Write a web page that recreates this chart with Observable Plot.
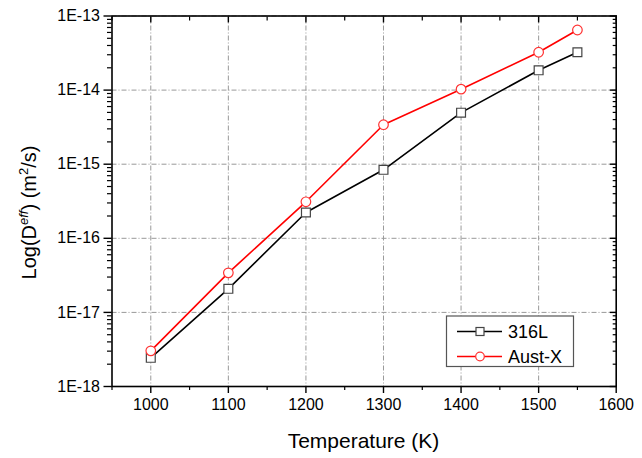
<!DOCTYPE html>
<html>
<head>
<meta charset="utf-8">
<script src="https://cdn.jsdelivr.net/npm/d3@7"></script>
<script src="https://cdn.jsdelivr.net/npm/@observablehq/plot@0.6"></script>
<style>
  html, body { margin: 0; padding: 0; background: #fff; }
  #chart svg { display: block; }
</style>
</head>
<body>
<div id="chart"></div>
<script>
// ---- data ----
const temperatures = [1000, 1100, 1200, 1300, 1400, 1500, 1550];
const d316L  = [2.44e-18, 2.08e-17, 2.23e-16, 8.4e-16, 4.96e-15, 1.85e-14, 3.24e-14];
const dAustX = [3.03e-18, 3.42e-17, 3.11e-16, 3.41e-15, 1.03e-14, 3.24e-14, 6.47e-14];
const seriesNames = ["316L", "Aust-X"];
const xTicks = [1000, 1100, 1200, 1300, 1400, 1500, 1600];
const xMinorTicks = [950, 1050, 1150, 1250, 1350, 1450, 1550];
const yTicks = [1e-18, 1e-17, 1e-16, 1e-15, 1e-14, 1e-13];
const xTitle = "Temperature (K)";

const yMinorTicks = [];
yTicks.slice(0, -1).forEach(d => { for (let k = 2; k <= 9; k++) yMinorTicks.push(k * d); });

const rows316 = temperatures.map((t, i) => ({t, v: d316L[i]}));
const rowsAust = temperatures.map((t, i) => ({t, v: dAustX[i]}));

const font = "'Liberation Sans', Arial, sans-serif";
const grid = {stroke: "#999", strokeOpacity: 1, strokeWidth: 1, strokeDasharray: "5,2,1,2"};
const fmtY = d => "1E" + Math.round(Math.log10(d));

const svg = Plot.plot({
  width: 642,
  height: 458,
  marginLeft: 111.5,
  marginRight: 26.3,
  marginTop: 15.5,
  marginBottom: 72,
  style: {fontFamily: font, fontSize: "16px", color: "#000", background: "#fff"},
  x: {domain: [950, 1600]},
  y: {type: "log", domain: [1e-18, 1e-13]},
  marks: [
    Plot.gridX(xTicks.slice(0, -1), grid),
    Plot.gridY(yTicks, grid),
    Plot.frame({stroke: "#000", strokeWidth: 1.6}),
    // bottom axis
    Plot.axisX({ticks: xTicks, tickSize: 7, tickPadding: 5, tickFormat: d => String(d), label: null, strokeWidth: 1.4, fontSize: 16}),
    Plot.axisX({ticks: xMinorTicks, tickSize: 4, text: null, label: null, strokeWidth: 1.2}),
    // top mirror (inward)
    Plot.axisX({anchor: "top", ticks: xTicks, tickSize: -6, text: null, label: null, strokeWidth: 1.4}),
    Plot.axisX({anchor: "top", ticks: xMinorTicks, tickSize: -4, text: null, label: null, strokeWidth: 1.2}),
    // left axis
    Plot.axisY({ticks: yTicks, tickSize: 8, tickPadding: 4, tickFormat: fmtY, label: null, strokeWidth: 1.4, fontSize: 16}),
    Plot.axisY({ticks: yMinorTicks, tickSize: 4.5, text: null, label: null, strokeWidth: 1.2}),
    // right mirror (inward)
    Plot.axisY({anchor: "right", ticks: yTicks, tickSize: -7, text: null, label: null, strokeWidth: 1.4}),
    Plot.axisY({anchor: "right", ticks: yMinorTicks, tickSize: -4, text: null, label: null, strokeWidth: 1.2}),
    // series
    Plot.line(rows316, {x: "t", y: "v", stroke: "#000", strokeWidth: 1.6}),
    Plot.line(rowsAust, {x: "t", y: "v", stroke: "#ff0000", strokeWidth: 1.6}),
    Plot.dot(rows316, {x: "t", y: "v", symbol: "square", r: 5, fill: "#fff", stroke: "#444", strokeWidth: 1.2}),
    Plot.dot(rowsAust, {x: "t", y: "v", symbol: "circle", r: 4.8, fill: "#fff", stroke: "#ff3333", strokeWidth: 1.2})
  ]
});

const s = d3.select(svg);

// x title
s.append("text")
  .attr("x", 363.5).attr("y", 448)
  .attr("text-anchor", "middle")
  .attr("font-family", font).attr("font-size", 21).attr("fill", "#000")
  .text(xTitle);

// y title with superscripts
const yt = s.append("text")
  .attr("transform", "translate(36,212.5) rotate(-90)")
  .attr("text-anchor", "middle")
  .attr("font-family", font).attr("font-size", 20).attr("fill", "#000");
yt.append("tspan").text("Log(D");
yt.append("tspan").attr("font-size", 13).attr("font-style", "italic").attr("dy", -8).text("eff");
yt.append("tspan").attr("dy", 8).text(") (m");
yt.append("tspan").attr("font-size", 13).attr("dy", -8).text("2");
yt.append("tspan").attr("dy", 8).text("/s)");

// legend
const lg = s.append("g");
lg.append("rect").attr("x", 446.5).attr("y", 316).attr("width", 127).attr("height", 50.5)
  .attr("fill", "#fff").attr("stroke", "#555").attr("stroke-width", 1.2);
const entries = [
  {name: seriesNames[0], color: "#000", mstroke: "#444", sym: "square", y: 331.5},
  {name: seriesNames[1], color: "#ff0000", mstroke: "#ff3333", sym: "circle", y: 356.5}
];
entries.forEach(e => {
  lg.append("line").attr("x1", 457).attr("x2", 502).attr("y1", e.y).attr("y2", e.y)
    .attr("stroke", e.color).attr("stroke-width", 1.6);
  if (e.sym === "square") {
    lg.append("rect").attr("x", 476).attr("y", e.y - 4).attr("width", 8).attr("height", 8)
      .attr("fill", "#fff").attr("stroke", e.mstroke).attr("stroke-width", 1.2);
  } else {
    lg.append("circle").attr("cx", 480).attr("cy", e.y).attr("r", 4.3)
      .attr("fill", "#fff").attr("stroke", e.mstroke).attr("stroke-width", 1.2);
  }
  lg.append("text").attr("x", 508).attr("y", e.y + 6.5).attr("text-anchor", "start")
    .attr("font-family", font).attr("font-size", 18).attr("fill", "#000").text(e.name);
});

document.getElementById("chart").appendChild(svg);
</script>
</body>
</html>
